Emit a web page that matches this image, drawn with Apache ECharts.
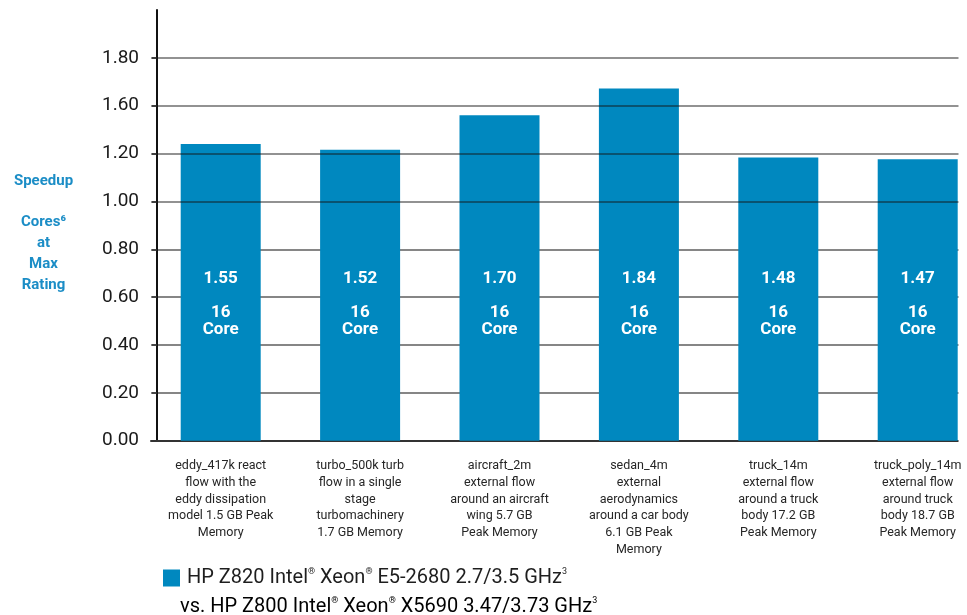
<!DOCTYPE html>
<html>
<head>
<meta charset="utf-8">
<script src="https://cdn.jsdelivr.net/npm/echarts@6/dist/echarts.min.js"></script>
<style>
  html, body { margin: 0; padding: 0; background: #ffffff; }
  #chart { width: 967px; height: 615px; }
</style>
</head>
<body>
<div id="chart"></div>
<script>
// ---- data ----
const categories = [
  "eddy_417k react\nflow with the\neddy dissipation\nmodel 1.5 GB Peak\nMemory",
  "turbo_500k turb\nflow in a single\nstage\nturbomachinery\n1.7 GB Memory",
  "aircraft_2m\nexternal flow\naround an aircraft\nwing 5.7 GB\nPeak Memory",
  "sedan_4m\nexternal\naerodynamics\naround a car body\n6.1 GB Peak\nMemory",
  "truck_14m\nexternal flow\naround a truck\nbody 17.2 GB\nPeak Memory",
  "truck_poly_14m\nexternal flow\naround truck\nbody 18.7 GB\nPeak Memory"
];
const speedups = [1.55, 1.52, 1.70, 1.84, 1.48, 1.47];
const coreCounts = [16, 16, 16, 16, 16, 16];
const yTickLabels = ["0.00", "0.20", "0.40", "0.60", "0.80", "1.00", "1.20", "1.60", "1.80"];
const yTickStep = 0.25;   // spacing of the labelled gridlines in the bars' units
const seriesName = "HP Z820 Intel® Xeon® E5-2680 2.7/3.5 GHz³";
const legendLine1 = ["HP Z820 Intel", "®", " Xeon", "®", " E5-2680 2.7/3.5 GHz", "3"];
const legendLine2 = ["vs. HP Z800 Intel", "®", " Xeon", "®", " X5690 3.47/3.73 GHz", "3"];
const axisTitle = "Speedup\n\nCores⁶\nat\nMax\nRating";

// ---- derived ----
const yTickValues = yTickLabels.map((_, i) => i * yTickStep);
const lowerTicks = yTickValues.filter((_, i) => i >= 1 && i <= 4);
const upperTicks = yTickValues.filter((_, i) => i >= 5);

function richLine(parts) {
  return parts.map((p, i) => (i % 2 === 0 ? '{t|' + p + '}' : '{s|' + p + '}')).join('');
}
const legendRich = {
  t: { fontFamily: 'Roboto', fontSize: 20, color: '#1e1e1e', lineHeight: 22 },
  s: { fontFamily: 'Roboto', fontSize: 9, color: '#1e1e1e', verticalAlign: 'top', lineHeight: 12 }
};

const BLUE = '#0088bf';
const chart = echarts.init(document.getElementById('chart'), null, { renderer: 'canvas' });

const hiddenAxisBase = {
  type: 'value', min: 0, max: 2.25, position: 'left',
  axisLine: { show: false }, axisLabel: { show: false }
};

chart.setOption({
  backgroundColor: '#ffffff',
  animation: false,
  grid: { left: 151, width: 836.4, top: 10, bottom: 174.3, containLabel: false, outerBoundsMode: 'none' },
  legend: {
    data: [seriesName],
    left: 158, top: 562,
    icon: 'rect', itemWidth: 17, itemHeight: 17,
    formatter: () => richLine(legendLine1),
    textStyle: { rich: legendRich, padding: [0, 0, 0, 2] },
    selectedMode: false
  },
  xAxis: {
    type: 'category',
    data: categories,
    axisLine: { show: true, lineStyle: { color: '#333333', width: 2 } },
    axisTick: { show: false },
    axisLabel: {
      interval: 0, margin: 17, fontFamily: 'Roboto', fontSize: 12.5,
      lineHeight: 16.7, color: '#262626'
    },
    splitLine: { show: false }
  },
  yAxis: [
    {
      type: 'value', min: 0, max: 2.25, offset: -6,
      axisLine: { show: true, lineStyle: { color: '#111111', width: 2 } },
      axisTick: { show: true, inside: false, length: 5, customValues: yTickValues,
                  lineStyle: { color: '#333333', width: 1.5 } },
      axisLabel: {
        customValues: yTickValues, margin: 18,
        fontFamily: 'Roboto', fontSize: 19, color: '#1a1a1a',
        formatter: (v) => yTickLabels[Math.round(v / yTickStep)] || ''
      },
      splitLine: { show: false }
    },
    Object.assign({}, hiddenAxisBase, {
      axisTick: { show: true, length: 0, customValues: lowerTicks, lineStyle: { opacity: 0 } },
      splitLine: { show: true, lineStyle: { color: '#5e5e5e', width: 1.5 } },
      z: 0
    }),
    Object.assign({}, hiddenAxisBase, {
      axisTick: { show: true, length: 0, customValues: upperTicks, lineStyle: { opacity: 0 } },
      splitLine: { show: true, lineStyle: { color: 'rgba(20,20,20,0.62)', width: 1.5 } },
      z: 5
    })
  ],
  series: [{
    name: seriesName,
    type: 'bar',
    yAxisIndex: 0,
    data: speedups,
    barWidth: 80,
    itemStyle: { color: BLUE },
    label: {
      show: true,
      position: 'insideBottom',
      distance: 103,
      formatter: (p) => '{v|' + p.value.toFixed(2) + '}\n{c|' + coreCounts[p.dataIndex] + '}\n{c|Core}',
      rich: {
        v: { fontFamily: 'Roboto', fontSize: 17, fontWeight: 'bold', color: '#ffffff', lineHeight: 51 },
        c: { fontFamily: 'Roboto', fontSize: 17, fontWeight: 'bold', color: '#ffffff', lineHeight: 16.5 }
      }
    }
  }],
  graphic: [
    {
      type: 'text', x: 43.5, y: 170.5, z: 50,
      style: {
        text: axisTitle, textAlign: 'center', fill: '#1b8dc6',
        fontFamily: 'Roboto', fontSize: 15, fontWeight: 'bold', lineHeight: 20.8
      }
    },
    {
      type: 'text', x: 180, y: 596, z: 50,
      style: { text: richLine(legendLine2), rich: legendRich }
    },
    {
      type: 'rect', x: 958.5, y: 0, z: 100,
      shape: { width: 20, height: 443 },
      style: { fill: '#ffffff' }, silent: true
    }
  ]
});
</script>
</body>
</html>
